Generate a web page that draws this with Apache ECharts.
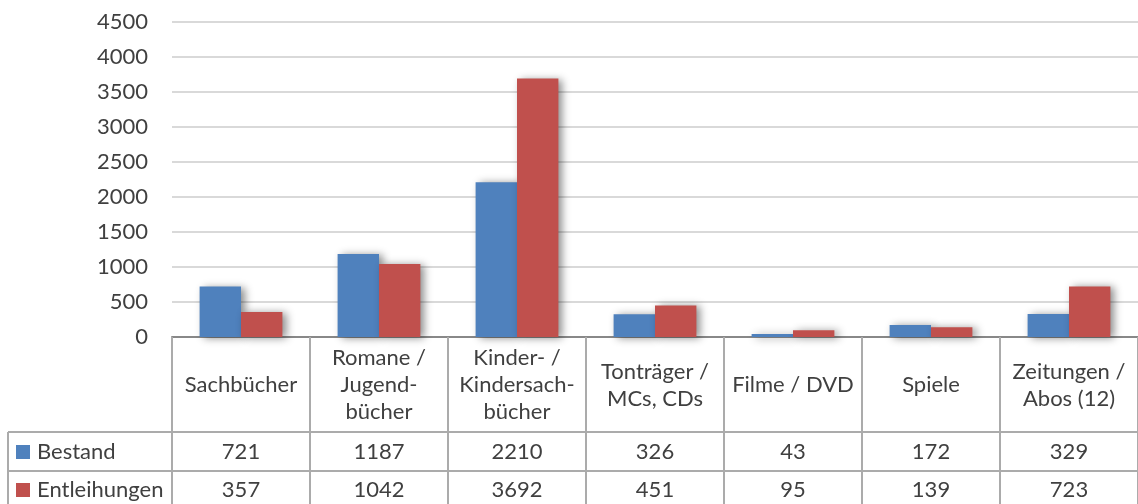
<!DOCTYPE html>
<html>
<head>
<meta charset="utf-8">
<script src="https://cdn.jsdelivr.net/npm/echarts@6/dist/echarts.min.js"></script>
<style>html,body{margin:0;padding:0;background:#fff;}#c{width:1138px;height:504px;}</style>
</head>
<body>
<div id="c"></div>
<script>
const categories = ['Sachbücher', 'Romane /\nJugend-\nbücher', 'Kinder- /\nKindersach-\nbücher', 'Tonträger /\nMCs, CDs', 'Filme / DVD', 'Spiele', 'Zeitungen /\nAbos (12)'];
const seriesNames = ['Bestand', 'Entleihungen'];
const bestand = [721, 1187, 2210, 326, 43, 172, 329];
const entleihungen = [357, 1042, 3692, 451, 95, 139, 723];
const yTicks = { min: 0, max: 4500, interval: 500 };

const FONT = 'Lato';
const FS = 22;
const TXT = '#404040';
const LINE = '#ABABAB';
const chart = echarts.init(document.getElementById('c'));
const gridLeft = 172, gridTop = 22, gridBottom = 167;
const H = 504, W = 1138;
const axisY = H - gridBottom;
const row1 = 452, row2 = 490;
const shadow = { shadowBlur: 8, shadowOffsetX: 4, shadowOffsetY: 1, shadowColor: 'rgba(0,0,0,0.45)' };
const legendCommon = { left: 16, padding: 0, icon: 'rect', itemWidth: 14, itemHeight: 14, selectedMode: false,
  itemStyle: { shadowBlur: 0, shadowOffsetX: 0, shadowOffsetY: 0 },
  textStyle: { fontSize: FS, color: TXT, fontFamily: FONT, padding: [0, 0, 0, 2] } };

chart.setOption({
  animation: false,
  textStyle: { fontFamily: FONT },
  color: ['#4F81BD', '#C0504D'],
  grid: { left: gridLeft, right: 0, top: gridTop, bottom: gridBottom, containLabel: false },
  legend: [
    Object.assign({ data: [seriesNames[0]], top: row1 - 11 }, legendCommon),
    Object.assign({ data: [seriesNames[1]], top: row2 - 11 }, legendCommon)
  ],
  xAxis: [
    { type: 'category', data: categories, position: 'bottom',
      axisLine: { show: true, lineStyle: { color: '#888888', width: 2 } },
      axisTick: { show: true, interval: 0, length: gridBottom + 5, lineStyle: { color: LINE, width: 2 } },
      axisLabel: { interval: 0, fontSize: FS, lineHeight: 27, color: TXT, fontFamily: FONT, margin: 48, verticalAlign: 'middle' } },
    { type: 'category', data: bestand.map(String), position: 'bottom', offset: row1 - axisY,
      axisLine: { show: false }, axisTick: { show: false },
      axisLabel: { interval: 0, fontSize: FS, color: TXT, fontFamily: FONT, margin: 0, verticalAlign: 'middle' } },
    { type: 'category', data: entleihungen.map(String), position: 'bottom', offset: row2 - axisY,
      axisLine: { show: false }, axisTick: { show: false },
      axisLabel: { interval: 0, fontSize: FS, color: TXT, fontFamily: FONT, margin: 0, verticalAlign: 'middle' } }
  ],
  yAxis: {
    type: 'value', min: yTicks.min, max: yTicks.max, interval: yTicks.interval,
    axisLine: { show: false }, axisTick: { show: false },
    splitLine: { lineStyle: { color: '#D9D9D9', width: 2 } },
    axisLabel: { fontSize: FS, color: TXT, fontFamily: FONT, margin: 24, formatter: v => String(v) }
  },
  series: [
    { name: seriesNames[0], type: 'bar', data: bestand, barGap: '0%', barCategoryGap: '40%', itemStyle: Object.assign({ color: '#4F81BD' }, shadow) },
    { name: seriesNames[1], type: 'bar', data: entleihungen, barGap: '0%', barCategoryGap: '40%', itemStyle: Object.assign({ color: '#C0504D' }, shadow) }
  ],
  graphic: [
    { type: 'line', shape: { x1: 8, y1: 432, x2: W, y2: 432 }, style: { stroke: LINE, lineWidth: 2 } },
    { type: 'line', shape: { x1: 8, y1: 471, x2: W, y2: 471 }, style: { stroke: LINE, lineWidth: 2 } },
    { type: 'line', shape: { x1: 8, y1: 511, x2: W, y2: 511 }, style: { stroke: LINE, lineWidth: 2 } },
    { type: 'line', shape: { x1: 8, y1: 432, x2: 8, y2: H }, style: { stroke: LINE, lineWidth: 2 } }
  ]
});
</script>
</body>
</html>
